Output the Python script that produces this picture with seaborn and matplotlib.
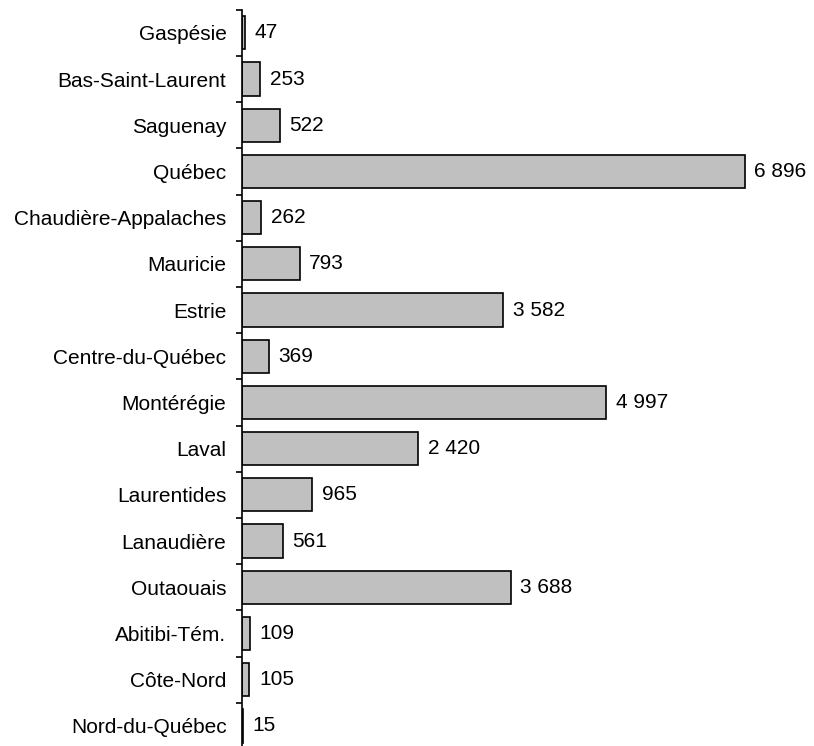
import matplotlib
matplotlib.use("Agg")
import matplotlib.pyplot as plt
import seaborn as sns
import pandas as pd
import numpy as np

# Regions, top to bottom
regions = [
    "Gaspésie", "Bas-Saint-Laurent", "Saguenay", "Québec",
    "Chaudière-Appalaches", "Mauricie", "Estrie", "Centre-du-Québec",
    "Montérégie", "Laval", "Laurentides", "Lanaudière", "Outaouais",
    "Abitibi-Tém.", "Côte-Nord", "Nord-du-Québec",
]
counts = [47, 253, 522, 6896, 262, 793, 3582, 369, 4997, 2420, 965, 561, 3688, 109, 105, 15]

df = pd.DataFrame({"region": regions, "count": counts})

sns.set_theme(style="white")
plt.rcParams["font.family"] = ["Liberation Sans", "DejaVu Sans"]

fig = plt.figure(figsize=(8.14, 7.46), dpi=100)
ax = fig.add_axes([0.297, -0.004, 0.627, 0.991])

sns.barplot(data=df, x="count", y="region", orient="h", color="#c0c0c0",
            edgecolor="black", linewidth=1.2, width=0.72, saturation=1, ax=ax)

def fmt(v):
    return f"{int(v):,}".replace(",", " ")

ax.bar_label(ax.containers[0], labels=[fmt(v) for v in counts],
             padding=7, fontsize=15, color="black")

ax.set_xlim(0, 7000)
ax.set_ylim(len(regions) - 0.5, -0.5)
ax.set_xlabel("")
ax.set_ylabel("")
ax.set_xticks([])

for side in ["top", "right", "bottom"]:
    ax.spines[side].set_visible(False)
ax.spines["left"].set_color("black")
ax.spines["left"].set_linewidth(1.2)

ax.tick_params(axis="y", which="major", length=0, pad=11, labelsize=15, labelcolor="black")
ax.set_yticks(np.arange(-0.5, len(regions), 1), minor=True)
ax.tick_params(axis="y", which="minor", length=4, width=1.2, color="black", direction="out", left=True)

fig.savefig("out.png", dpi=100)
